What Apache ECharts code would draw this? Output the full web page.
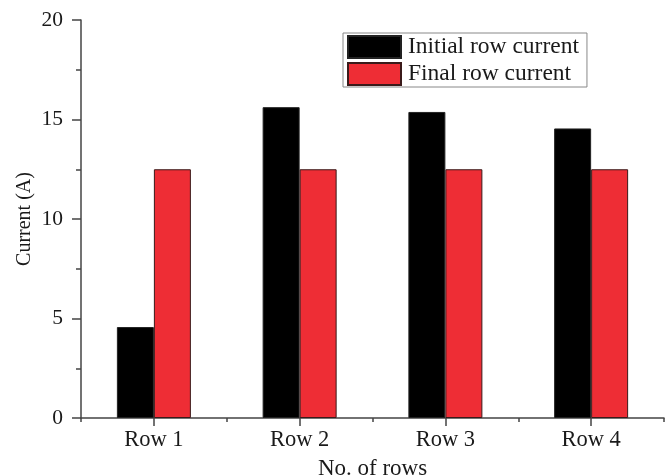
<!DOCTYPE html>
<html>
<head>
<meta charset="utf-8">
<script src="https://cdn.jsdelivr.net/npm/echarts@6/dist/echarts.min.js"></script>
<style>
  html, body { margin: 0; padding: 0; background: #fff; }
  #chart { width: 670px; height: 475px; }
</style>
</head>
<body>
<div id="chart"></div>
<script>
// Row labels along the x axis
const rows = ['Row 1', 'Row 2', 'Row 3', 'Row 4'];
// Measured currents per row (A)
const initialCurrent = [4.57, 15.62, 15.38, 14.55];
const finalCurrent = [12.5, 12.5, 12.5, 12.5];
// Value axis range
const yMin = 0, yMax = 20, yStep = 5;

const serif = 'Liberation Serif, Times New Roman, serif';
const axisColor = '#444';
const textColor = '#1a1a1a';

const chart = echarts.init(document.getElementById('chart'), null, { renderer: 'canvas' });
chart.setOption({
  animation: false,
  backgroundColor: '#fff',
  textStyle: { fontFamily: serif },
  grid: { left: 81, right: 6, top: 20, bottom: 57, containLabel: false, outerBoundsMode: 'none' },
  legend: {
    orient: 'vertical',
    left: 343,
    top: 33,
    padding: [2, 8, 1, 4],
    itemGap: 3,
    itemWidth: 53,
    itemHeight: 22,
    backgroundColor: '#fff',
    borderColor: '#888',
    borderWidth: 1,
    borderRadius: 0,
    selectedMode: false,
    textStyle: { fontFamily: serif, fontSize: 23.5, color: textColor, padding: [0, 0, 0, 2] },
    data: [
      { name: 'Initial row current', icon: 'rect' },
      { name: 'Final row current', icon: 'rect' }
    ]
  },
  xAxis: [
    {
      type: 'category',
      data: rows,
      name: 'No. of rows',
      nameLocation: 'middle',
      nameGap: 39,
      nameMoveOverlap: false,
      nameTextStyle: { fontFamily: serif, fontSize: 23, color: textColor },
      axisLine: { lineStyle: { color: axisColor, width: 1.5 } },
      axisTick: { show: true, alignWithLabel: true, length: 8, lineStyle: { color: axisColor, width: 1.5 } },
      axisLabel: { fontFamily: serif, fontSize: 22.5, color: textColor, margin: 11 },
      splitLine: { show: false }
    },
    {
      // boundary ticks between categories
      type: 'category',
      data: rows,
      position: 'bottom',
      axisLine: { show: false },
      axisTick: { show: true, alignWithLabel: false, length: 4, lineStyle: { color: axisColor, width: 1.5 } },
      axisLabel: { show: false },
      splitLine: { show: false }
    }
  ],
  yAxis: {
    type: 'value',
    min: yMin,
    max: yMax,
    interval: yStep,
    name: 'Current (A)',
    nameLocation: 'middle',
    nameGap: 46,
    nameMoveOverlap: false,
    nameRotate: 90,
    nameTextStyle: { fontFamily: serif, fontSize: 20, color: textColor },
    axisLine: { show: true, lineStyle: { color: axisColor, width: 1.5 } },
    axisTick: { show: true, length: 9, lineStyle: { color: axisColor, width: 1.5 } },
    minorTick: { show: true, splitNumber: 2, length: 5, lineStyle: { color: axisColor, width: 1.5 } },
    axisLabel: { fontFamily: serif, fontSize: 21.5, color: textColor, margin: 18 },
    splitLine: { show: false }
  },
  series: [
    {
      name: 'Initial row current',
      type: 'bar',
      data: initialCurrent,
      barWidth: 37,
      barGap: '0%',
      itemStyle: { color: '#000', borderColor: '#222', borderWidth: 1 }
    },
    {
      name: 'Final row current',
      type: 'bar',
      data: finalCurrent,
      barWidth: 37,
      barGap: '0%',
      itemStyle: { color: '#ee2d35', borderColor: '#3a1a1a', borderWidth: 1 }
    }
  ]
});
</script>
</body>
</html>
